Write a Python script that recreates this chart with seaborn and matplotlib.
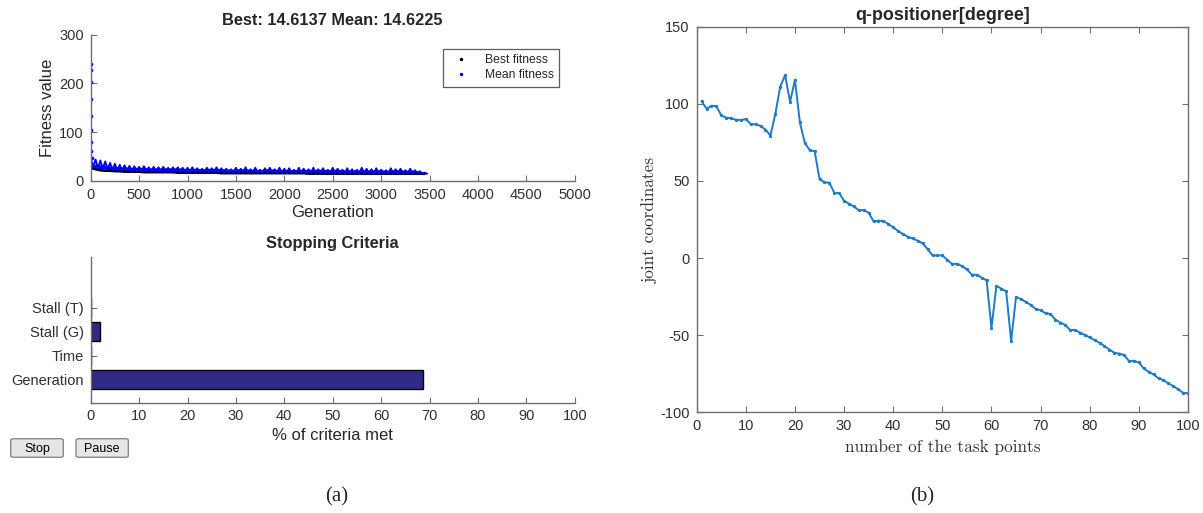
import numpy as np
import pandas as pd
import matplotlib
matplotlib.use("Agg")
import matplotlib.pyplot as plt
import seaborn as sns
from matplotlib.lines import Line2D
from matplotlib.patches import FancyBboxPatch

# ---- data ----
# (a) GA progress: first generations, then the band sampled every 50 generations
start_gen = [1, 2, 3, 4, 5, 6, 7, 8, 9]
start_mean = [240, 228, 203, 168, 134, 104, 80, 62, 48]

band_gen = list(range(0, 3451, 50))
mean_hi = [47, 44, 42, 40, 37, 35, 33, 32, 31, 30, 29, 30, 28, 29, 28, 29, 27, 28,
           28, 27, 27, 28, 26, 25, 27, 26, 28, 26, 25, 24, 27, 25, 28, 24, 27, 23,
           26, 27, 24, 27, 25, 26, 23, 27, 25, 24, 27, 24, 26, 23, 27, 25, 23, 26,
           24, 23, 27, 25, 24, 26, 23, 22, 26, 24, 25, 22, 25, 22, 20, 17]
mean_lo = [28, 26, 25, 24, 23, 22, 21, 21, 20, 20, 20, 20, 19, 19, 19, 19, 19, 19,
           19, 18, 18, 18, 18, 18, 18, 18, 18, 17, 17, 17, 17, 17, 17, 17, 17, 17,
           17, 17, 16, 16, 16, 16, 16, 16, 16, 16, 16, 16, 16, 16, 16, 16, 15, 15,
           15, 15, 15, 15, 15, 15, 15, 15, 15, 15, 15, 15, 15, 15, 15, 15]
best_fit = [27, 24, 22, 21, 21, 20, 20, 19, 19, 19, 19, 18, 18, 18, 18, 18, 18, 18,
            17, 17, 17, 17, 17, 17, 17, 17, 17, 16, 16, 16, 16, 16, 16, 16, 16, 16,
            16, 16, 16, 16, 16, 16, 16, 16, 16, 15, 15, 15, 15, 15, 15, 15, 15, 15,
            15, 15, 15, 15, 15, 15, 15, 15, 15, 15, 15, 15, 15, 15, 15, 14.6]

criteria = ["Stall (T)", "Stall (G)", "Time", "Generation"]
criteria_met = [0, 1.9, 0, 68.6]

# (b) q-positioner at the 100 task points
task_pts = list(range(1, 101))
q_pos = [101.7, 96.8, 98.7, 98.5, 92.5, 91.0, 90.6, 89.7, 89.5, 90.1,
         86.9, 86.7, 85.6, 83.3, 79.4, 93.3, 111.2, 118.5, 101.3, 115.5,
         88.0, 74.7, 70.0, 69.3, 51.3, 49.1, 48.9, 42.3, 42.1, 37.1,
         35.2, 33.5, 30.9, 31.1, 29.4, 23.8, 24.2, 24.0, 22.1, 19.9,
         17.5, 15.5, 13.7, 12.7, 11.2, 9.5, 5.8, 1.7, 1.7, 1.7,
         -1.1, -3.9, -3.7, -5.2, -7.3, -10.8, -10.8, -12.7, -14.4, -45.3,
         -18.1, -19.8, -21.6, -53.9, -25.2, -26.7, -28.4, -30.4, -33.0, -33.8,
         -35.8, -36.2, -39.9, -41.8, -43.3, -46.6, -46.6, -48.3, -49.8, -51.5,
         -53.2, -55.0, -57.1, -59.3, -61.4, -61.9, -62.9, -66.8, -66.6, -67.7,
         -71.6, -73.7, -75.4, -78.0, -79.1, -81.3, -83.0, -85.1, -87.3, -87.7]

sns.set_theme(style="white")
plt.rcParams['font.family'] = ['Liberation Sans', 'DejaVu Sans']
plt.rcParams['axes.unicode_minus'] = False
plt.rcParams['axes.edgecolor'] = '#6e6e6e'
plt.rcParams['xtick.color'] = '#6e6e6e'
plt.rcParams['ytick.color'] = '#6e6e6e'
plt.rcParams['xtick.labelcolor'] = '#303030'
plt.rcParams['ytick.labelcolor'] = '#303030'

W, H = 1203, 513
fig = plt.figure(figsize=(W / 100, H / 100), dpi=100)


def box(l, t, r, b):
    return [l / W, 1 - b / H, (r - l) / W, (b - t) / H]


def matlab_ticks(ax, full=False):
    ax.tick_params(direction='in', length=4, width=0.8, labelsize=10.5, pad=5,
                   top=full, right=full, bottom=True, left=True)
    for s in ax.spines.values():
        s.set_linewidth(1.0)
    if not full:
        ax.spines['top'].set_visible(False)
        ax.spines['right'].set_visible(False)


# ---- (a) top: fitness ----
ax1 = fig.add_axes(box(90.7, 34.7, 574.7, 181))
sns.lineplot(x=band_gen, y=best_fit, ax=ax1, color='black', lw=1.8,
             estimator=None)
zz_x, zz_y = [], []
for g, hi, lo in zip(band_gen, mean_hi, mean_lo):
    zz_x += [g, g + 25]
    zz_y += [hi, lo]
band = pd.DataFrame({"gen": start_gen + zz_x, "fit": start_mean + zz_y})
ax1.fill_between(band_gen, [lo + 0.5 for lo in mean_lo],
                 [min(hi, lo + 8) for hi, lo in zip(mean_hi, mean_lo)],
                 color='blue', lw=0)
sns.lineplot(data=band.iloc[len(start_gen):], x="gen", y="fit", ax=ax1,
             color='blue', lw=1.4, sort=False, estimator=None)
sns.scatterplot(data=band.iloc[:len(start_gen)], x="gen", y="fit", ax=ax1,
                color='blue', s=7, linewidth=0)
ax1.set_xlim(0, 5000)
ax1.set_ylim(0, 300)
ax1.set_xticks(range(0, 5001, 500))
ax1.set_yticks([0, 100, 200, 300])
matlab_ticks(ax1)
ax1.set_xlabel("Generation", fontsize=12, labelpad=2)
ax1.set_ylabel("Fitness value", fontsize=12, labelpad=3)
ax1.set_title("Best: 14.6137 Mean: 14.6225", fontsize=11.8, fontweight='bold',
              pad=7)
handles = [Line2D([], [], ls='none', marker='.', ms=3, color='black'),
           Line2D([], [], ls='none', marker='.', ms=3, color='blue')]
leg = ax1.legend(handles, ["Best fitness", "Mean fitness"], loc='upper left',
                 bbox_to_anchor=((443 - 90.7) / (574.7 - 90.7), 1 - (49 - 34.7) / (181 - 34.7)),
                 fontsize=8.7, frameon=True, fancybox=False, edgecolor='#333333',
                 borderpad=0.45, handletextpad=1.0, labelspacing=0.25,
                 borderaxespad=0)
leg.get_frame().set_linewidth(0.9)

# ---- (a) bottom: stopping criteria ----
ax2 = fig.add_axes(box(90.7, 256.7, 574.7, 402.5))
stop_df = pd.DataFrame({"criterion": criteria, "met": criteria_met})
sns.barplot(data=stop_df, x="met", y="criterion", ax=ax2, orient='h',
            color='#302a86', saturation=1, edgecolor='black', linewidth=1.0,
            width=0.8)
ax2.set_xlim(0, 100)
ax2.set_ylim(3.95, -2.14)
ax2.set_xticks(range(0, 101, 10))
matlab_ticks(ax2)
ax2.set_xlabel("% of criteria met", fontsize=12, labelpad=3)
ax2.set_ylabel("")
ax2.set_title("Stopping Criteria", fontsize=11.8, fontweight='bold', pad=6)

# buttons
for label, x0, x1 in [("Stop", 10.7, 63.3), ("Pause", 76, 128.3)]:
    fig.patches.append(FancyBboxPatch((x0 / W, 1 - 457.3 / H),
                                      (x1 - x0) / W, 18.6 / H,
                                      boxstyle="round,pad=0,rounding_size=0.003",
                                      transform=fig.transFigure,
                                      facecolor='#e6e6e6', edgecolor='#8a8a8a',
                                      linewidth=1.0))
    fig.text((x0 + x1) / 2 / W, 1 - 449 / H, label, ha='center', va='center',
             fontsize=9, color='black')

# ---- (b) q-positioner ----
ax3 = fig.add_axes(box(696.7, 26.7, 1188, 412.3))
sns.lineplot(x=task_pts, y=q_pos, ax=ax3, color='#1f7bc4', lw=1.4,
             marker='o', markersize=2.4, markeredgewidth=0, estimator=None)
ax3.set_xlim(0, 100)
ax3.set_ylim(-100, 150)
ax3.set_xticks(range(0, 101, 10))
ax3.set_yticks(range(-100, 151, 50))
matlab_ticks(ax3, full=True)
ax3.set_title("q-positioner[degree]", fontsize=12.9, fontweight='bold', pad=5)
ax3.set_xlabel("number of the task points", fontsize=12.4, family='cmr10',
               color='#333333', labelpad=4)
ax3.set_ylabel("joint coordinates", fontsize=12.4, family='cmr10',
               color='#333333', labelpad=1.5)

# panel captions
fig.text(337 / W, 1 - 497 / H, "(a)", ha='center', va='center', fontsize=15,
         family='Liberation Serif')
fig.text(922 / W, 1 - 497 / H, "(b)", ha='center', va='center', fontsize=15,
         family='Liberation Serif')

fig.savefig("out.png", dpi=100)
